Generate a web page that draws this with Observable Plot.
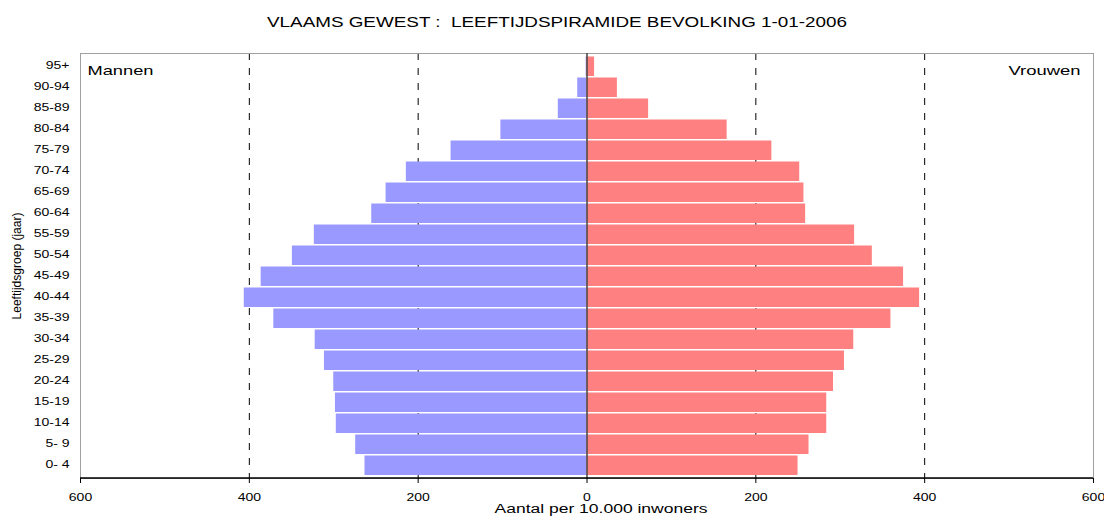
<!DOCTYPE html>
<html>
<head>
<meta charset="utf-8">
<script src="https://cdn.jsdelivr.net/npm/d3@7"></script>
<script src="https://cdn.jsdelivr.net/npm/@observablehq/plot@0.6"></script>
<style>
  html, body { margin: 0; padding: 0; background: #fff; }
  body { width: 1104px; height: 517px; overflow: hidden; }
</style>
</head>
<body>
<div id="chart"></div>
<script>
// Age groups, bottom (youngest) to top (oldest)
const ages = ["0- 4","5- 9","10-14","15-19","20-24","25-29","30-34","35-39","40-44","45-49","50-54","55-59","60-64","65-69","70-74","75-79","80-84","85-89","90-94","95+"];
// Number per 10,000 inhabitants
const men   = [263, 274, 297, 298, 300, 311, 322, 371, 406, 386, 349, 323, 255, 238, 214, 161, 102, 34, 11, 1];
const women = [250, 263, 284, 284, 292, 305, 316, 360, 394, 375, 338, 317, 259, 257, 252, 219, 166, 73, 36, 9];
const xTicks = [-600, -400, -200, 0, 200, 400, 600];
const gridTicks = [-400, -200, 200, 400];

const titleText = "VLAAMS GEWEST :  LEEFTIJDSPIRAMIDE BEVOLKING 1-01-2006";
const xLabel = "Aantal per 10.000 inwoners";
const yLabel = "Leeftijdsgroep (jaar)";

const rows = ages.map((a, i) => ({age: a, men: men[i], women: women[i]}));

const chart = Plot.plot({
  width: 1104,
  height: 517,
  marginTop: 53,
  marginBottom: 39,
  marginLeft: 80,
  marginRight: 11,
  style: {fontFamily: "'Liberation Sans', Arial, sans-serif", fontSize: "10px", color: "#000", background: "#fff"},
  x: {domain: [-600, 600]},
  y: {domain: ages.slice().reverse(), padding: 0},
  marks: [
    Plot.ruleX(gridTicks, {stroke: "#000", strokeDasharray: "7,8", strokeWidth: 1}),
    Plot.barX(rows, {y: "age", x1: 0, x2: d => -d.men, fill: "#9999FF", insetTop: 0.5, insetBottom: 1}),
    Plot.barX(rows, {y: "age", x1: 0, x2: "women", fill: "#FF8080", insetTop: 0.5, insetBottom: 1}),
    Plot.frame({stroke: "#a0a0a0", strokeWidth: 1}),
    Plot.ruleX([0], {stroke: "#444", strokeWidth: 1.5}),
    Plot.axisX({ticks: xTicks, tickFormat: d => Math.abs(d), tickSize: 5, tickPadding: 10, fontSize: 10, label: null, stroke: "#000"}),
    Plot.axisY({tickSize: 0, tickPadding: 11, fontSize: 10, label: null, dy: -1.5}),
    Plot.text([titleText], {frameAnchor: "top", dx: -30, dy: -37, fontSize: 15, fill: "#000"}),
    Plot.text([xLabel], {frameAnchor: "bottom", dx: 14, dy: 34.5, fontSize: 12, fill: "#000", lineAnchor: "bottom"}),
    Plot.text([yLabel], {frameAnchor: "left", dx: -63, rotate: -90, fontSize: 12, fill: "#000", textAnchor: "middle"}),
    Plot.text(["Mannen"], {frameAnchor: "top-left", dx: 7, dy: 12, fontSize: 13, fill: "#000", textAnchor: "start"}),
    Plot.text(["Vrouwen"], {frameAnchor: "top-right", dx: -13, dy: 12, fontSize: 13, fill: "#000", textAnchor: "end"})
  ]
});

document.getElementById("chart").appendChild(chart);

const svg = d3.select(chart);
// solid black bottom axis line
svg.append("line")
  .attr("x1", 80).attr("x2", 1093)
  .attr("y1", 478).attr("y2", 478)
  .attr("stroke", "#000").attr("stroke-width", 1.5);

// The reference's lettering is horizontally stretched; reproduce via textLength.
const targetWidths = new Map([[titleText, 580], [xLabel, 213], [yLabel, 107], ["Mannen", 66], ["Vrouwen", 72]]);
svg.selectAll("text").each(function() {
  const t = this.textContent;
  const natural = this.getComputedTextLength();
  const w = targetWidths.has(t) ? targetWidths.get(t) : natural * 1.4;
  this.setAttribute("textLength", w);
  this.setAttribute("lengthAdjust", "spacingAndGlyphs");
});
</script>
</body>
</html>
